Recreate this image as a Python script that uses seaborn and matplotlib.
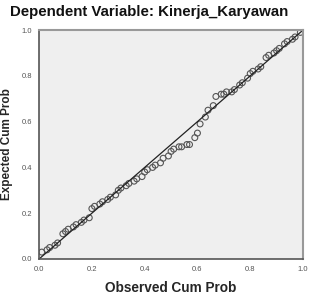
import matplotlib
matplotlib.use("Agg")
import matplotlib.pyplot as plt
import numpy as np
import pandas as pd
import seaborn as sns

# observed vs expected cumulative probabilities
observed = [0.01, 0.03, 0.04, 0.06, 0.07, 0.09, 0.10, 0.11, 0.13, 0.14,
            0.16, 0.17, 0.19, 0.20, 0.21, 0.23, 0.24, 0.26, 0.27, 0.29,
            0.30, 0.31, 0.33, 0.34, 0.36, 0.37, 0.39, 0.40, 0.41, 0.43,
            0.44, 0.46, 0.47, 0.49, 0.50, 0.51, 0.53, 0.54, 0.56, 0.57,
            0.59, 0.60, 0.61, 0.63, 0.64, 0.66, 0.67, 0.69, 0.70, 0.71,
            0.73, 0.74, 0.76, 0.77, 0.79, 0.80, 0.81, 0.83, 0.84, 0.86,
            0.87, 0.89, 0.90, 0.91, 0.93, 0.94, 0.96, 0.97, 0.99]
expected = [0.03, 0.04, 0.05, 0.06, 0.07, 0.11, 0.12, 0.13, 0.14, 0.15,
            0.16, 0.17, 0.18, 0.22, 0.23, 0.24, 0.25, 0.26, 0.27, 0.28,
            0.30, 0.31, 0.32, 0.33, 0.34, 0.35, 0.36, 0.38, 0.39, 0.40,
            0.41, 0.42, 0.44, 0.45, 0.47, 0.48, 0.49, 0.49, 0.50, 0.50,
            0.53, 0.55, 0.59, 0.62, 0.65, 0.67, 0.71, 0.72, 0.72, 0.73,
            0.73, 0.74, 0.76, 0.77, 0.79, 0.81, 0.82, 0.83, 0.84, 0.88,
            0.89, 0.90, 0.91, 0.92, 0.94, 0.95, 0.96, 0.97, 0.99]
ref_line = [0.0, 1.0]
ticks = [0.0, 0.2, 0.4, 0.6, 0.8, 1.0]

df = pd.DataFrame({"obs": observed, "exp": expected})

sns.set_style("white")
plt.rcParams['font.family'] = ['Liberation Sans', 'DejaVu Sans']

fig = plt.figure(figsize=(3.13, 2.98), dpi=100)
ax = fig.add_axes([0.125, 0.131, 0.843, 0.768])
ax.set_facecolor('#efefef')

sns.lineplot(x=ref_line, y=ref_line, color='#222222', linewidth=0.9, ax=ax)
sns.scatterplot(data=df, x="obs", y="exp", marker='o', s=18,
                facecolor='none', edgecolor='#555555', linewidth=0.8, ax=ax)

ax.set_xlim(0, 1)
ax.set_ylim(0, 1)
ax.set_xticks(ticks)
ax.set_yticks(ticks)
ax.set_xticklabels([f"{t:.1f}" for t in ticks])
ax.set_yticklabels([f"{t:.1f}" for t in ticks])
ax.tick_params(axis='both', labelsize=5.5, colors='#666666', length=3,
               width=0.8, direction='out', pad=2)
ax.tick_params(axis='both', labelcolor='#555555')

for side in ['left', 'bottom']:
    ax.spines[side].set_color('#555555')
    ax.spines[side].set_linewidth(1.2)
for side in ['top', 'right']:
    ax.spines[side].set_color('#999999')
    ax.spines[side].set_linewidth(1.5)

ax.set_xlabel("Observed Cum Prob", fontsize=9.8, fontweight='bold', labelpad=6)
ax.set_ylabel("Expected Cum Prob", fontsize=8.5, fontweight='bold', labelpad=6)
fig.text(0.032, 0.96, "Dependent Variable: Kinerja_Karyawan", fontsize=10.8,
         fontweight='bold', va='center', ha='left', color='#111111')

fig.savefig("out.png", dpi=100)
